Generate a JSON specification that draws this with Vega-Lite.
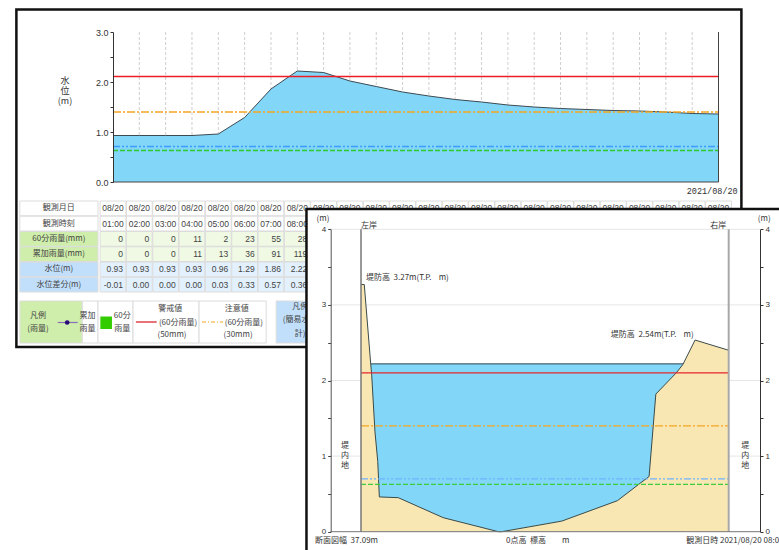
{
"$schema":"https://vega.github.io/schema/vega-lite/v6.json",
"width":779,"height":550,"padding":0,"autosize":"none","background":"white",
"config":{"view":{"stroke":null},"text":{"font":"Liberation Sans, Noto Sans CJK JP","fontSize":8,"color":"#333"}},
"datasets":{
"frame1":[{"h1":-2.67,"h2":24.87,"l1":3.45,"l2":-3.3}],
"grid1":[{"hour":2},{"hour":3},{"hour":4},{"hour":5},{"hour":6},{"hour":7},{"hour":8},{"hour":9},{"hour":10},{"hour":11},{"hour":12},{"hour":13},{"hour":14},{"hour":15},{"hour":16},{"hour":17},{"hour":18},{"hour":19},{"hour":20},{"hour":21},{"hour":22},{"hour":23}],
"level":[{"hour":1,"level":0.93},{"hour":2,"level":0.93},{"hour":3,"level":0.93},{"hour":4,"level":0.93},{"hour":5,"level":0.96},{"hour":6,"level":1.29},{"hour":7,"level":1.86},{"hour":8,"level":2.22},{"hour":9,"level":2.19},{"hour":10,"level":2.02},{"hour":11,"level":1.91},{"hour":12,"level":1.8},{"hour":13,"level":1.72},{"hour":14,"level":1.65},{"hour":15,"level":1.6},{"hour":16,"level":1.54},{"hour":17,"level":1.5},{"hour":18,"level":1.47},{"hour":19,"level":1.45},{"hour":20,"level":1.43},{"hour":21,"level":1.42},{"hour":22,"level":1.4},{"hour":23,"level":1.37},{"hour":24,"level":1.36}],
"limits1":[{"name":"警戒値","level":2.11,"a":1,"b":24},{"name":"注意値","level":1.4,"a":1,"b":24},{"name":"基準値A","level":0.71,"a":1,"b":24},{"name":"基準値B","level":0.63,"a":1,"b":24}],
"yticks1":[{"v":0},{"v":0.5},{"v":1},{"v":1.5},{"v":2},{"v":2.5},{"v":3}],
"legendBoxes":[{"h1":-2.536,"h2":-0.167,"l1":-2.38,"l2":-3.22,"kind":"雨量見出し"},{"h1":-0.167,"h2":0.43,"l1":-2.38,"l2":-3.22,"kind":"白"},{"h1":0.43,"h2":1.76,"l1":-2.38,"l2":-3.22,"kind":"白"},{"h1":1.76,"h2":4.27,"l1":-2.38,"l2":-3.22,"kind":"白"},{"h1":4.27,"h2":6.82,"l1":-2.38,"l2":-3.22,"kind":"白"},{"h1":7.2,"h2":9.02,"l1":-2.38,"l2":-3.22,"kind":"水位見出し"}],
"legendText":[{"h":-1.85,"l":-2.67,"t":"凡例"},{"h":-1.85,"l":-2.94,"t":"(雨量)"},{"h":0.03,"l":-2.67,"t":"累加"},{"h":0.03,"l":-2.94,"t":"雨量"},{"h":1.35,"l":-2.67,"t":"60分"},{"h":1.35,"l":-2.94,"t":"雨量"},{"h":3.17,"l":-2.54,"t":"警戒値"},{"h":3.47,"l":-2.81,"t":"(60分雨量)"},{"h":3.24,"l":-3.06,"t":"(50mm)"},{"h":5.7,"l":-2.54,"t":"注意値"},{"h":5.97,"l":-2.81,"t":"(60分雨量)"},{"h":5.75,"l":-3.06,"t":"(30mm)"},{"h":8.11,"l":-2.49,"t":"凡例"},{"h":8.11,"l":-2.76,"t":"(簡易水位"},{"h":8.11,"l":-3.04,"t":"計)"}],
"rowHeads":[{"row":"観測月日","from":-2.54,"to":0.43,"kind":"白"},{"row":"観測時刻","from":-2.54,"to":0.43,"kind":"白"},{"row":"60分雨量(mm)","from":-2.54,"to":0.43,"kind":"雨量見出し"},{"row":"累加雨量(mm)","from":-2.54,"to":0.43,"kind":"雨量見出し"},{"row":"水位(m)","from":-2.54,"to":0.43,"kind":"水位見出し"},{"row":"水位差分(m)","from":-2.54,"to":0.43,"kind":"水位見出し"}],
"dateCells":[{"row":"観測月日","hour":1,"from":0.51,"to":1.49,"kind":"白","text":"08/20"},{"row":"観測月日","hour":2,"from":1.51,"to":2.49,"kind":"白","text":"08/20"},{"row":"観測月日","hour":3,"from":2.51,"to":3.49,"kind":"白","text":"08/20"},{"row":"観測月日","hour":4,"from":3.51,"to":4.49,"kind":"白","text":"08/20"},{"row":"観測月日","hour":5,"from":4.51,"to":5.49,"kind":"白","text":"08/20"},{"row":"観測月日","hour":6,"from":5.51,"to":6.49,"kind":"白","text":"08/20"},{"row":"観測月日","hour":7,"from":6.51,"to":7.49,"kind":"白","text":"08/20"},{"row":"観測月日","hour":8,"from":7.51,"to":8.49,"kind":"白","text":"08/20"},{"row":"観測月日","hour":9,"from":8.51,"to":9.49,"kind":"白","text":"08/20"},{"row":"観測月日","hour":10,"from":9.51,"to":10.49,"kind":"白","text":"08/20"},{"row":"観測月日","hour":11,"from":10.51,"to":11.49,"kind":"白","text":"08/20"},{"row":"観測月日","hour":12,"from":11.51,"to":12.49,"kind":"白","text":"08/20"},{"row":"観測月日","hour":13,"from":12.51,"to":13.49,"kind":"白","text":"08/20"},{"row":"観測月日","hour":14,"from":13.51,"to":14.49,"kind":"白","text":"08/20"},{"row":"観測月日","hour":15,"from":14.51,"to":15.49,"kind":"白","text":"08/20"},{"row":"観測月日","hour":16,"from":15.51,"to":16.49,"kind":"白","text":"08/20"},{"row":"観測月日","hour":17,"from":16.51,"to":17.49,"kind":"白","text":"08/20"},{"row":"観測月日","hour":18,"from":17.51,"to":18.49,"kind":"白","text":"08/20"},{"row":"観測月日","hour":19,"from":18.51,"to":19.49,"kind":"白","text":"08/20"},{"row":"観測月日","hour":20,"from":19.51,"to":20.49,"kind":"白","text":"08/20"},{"row":"観測月日","hour":21,"from":20.51,"to":21.49,"kind":"白","text":"08/20"},{"row":"観測月日","hour":22,"from":21.51,"to":22.49,"kind":"白","text":"08/20"},{"row":"観測月日","hour":23,"from":22.51,"to":23.49,"kind":"白","text":"08/20"},{"row":"観測月日","hour":24,"from":23.51,"to":24.49,"kind":"白","text":"08/20"},
{"row":"観測時刻","hour":1,"from":0.51,"to":1.49,"kind":"白","text":"01:00"},{"row":"観測時刻","hour":2,"from":1.51,"to":2.49,"kind":"白","text":"02:00"},{"row":"観測時刻","hour":3,"from":2.51,"to":3.49,"kind":"白","text":"03:00"},{"row":"観測時刻","hour":4,"from":3.51,"to":4.49,"kind":"白","text":"04:00"},{"row":"観測時刻","hour":5,"from":4.51,"to":5.49,"kind":"白","text":"05:00"},{"row":"観測時刻","hour":6,"from":5.51,"to":6.49,"kind":"白","text":"06:00"},{"row":"観測時刻","hour":7,"from":6.51,"to":7.49,"kind":"白","text":"07:00"},{"row":"観測時刻","hour":8,"from":7.51,"to":8.49,"kind":"白","text":"08:00"}],
"numCells":[{"row":"60分雨量(mm)","hour":1,"from":0.51,"to":1.49,"kind":"雨量","text":"0"},{"row":"60分雨量(mm)","hour":2,"from":1.51,"to":2.49,"kind":"雨量","text":"0"},{"row":"60分雨量(mm)","hour":3,"from":2.51,"to":3.49,"kind":"雨量","text":"0"},{"row":"60分雨量(mm)","hour":4,"from":3.51,"to":4.49,"kind":"雨量","text":"11"},{"row":"60分雨量(mm)","hour":5,"from":4.51,"to":5.49,"kind":"雨量","text":"2"},{"row":"60分雨量(mm)","hour":6,"from":5.51,"to":6.49,"kind":"雨量","text":"23"},{"row":"60分雨量(mm)","hour":7,"from":6.51,"to":7.49,"kind":"雨量","text":"55"},{"row":"60分雨量(mm)","hour":8,"from":7.51,"to":8.49,"kind":"雨量","text":"28"},
{"row":"累加雨量(mm)","hour":1,"from":0.51,"to":1.49,"kind":"雨量","text":"0"},{"row":"累加雨量(mm)","hour":2,"from":1.51,"to":2.49,"kind":"雨量","text":"0"},{"row":"累加雨量(mm)","hour":3,"from":2.51,"to":3.49,"kind":"雨量","text":"0"},{"row":"累加雨量(mm)","hour":4,"from":3.51,"to":4.49,"kind":"雨量","text":"11"},{"row":"累加雨量(mm)","hour":5,"from":4.51,"to":5.49,"kind":"雨量","text":"13"},{"row":"累加雨量(mm)","hour":6,"from":5.51,"to":6.49,"kind":"雨量","text":"36"},{"row":"累加雨量(mm)","hour":7,"from":6.51,"to":7.49,"kind":"雨量","text":"91"},{"row":"累加雨量(mm)","hour":8,"from":7.51,"to":8.49,"kind":"雨量","text":"119"},
{"row":"水位(m)","hour":1,"from":0.51,"to":1.49,"kind":"水位","text":"0.93"},{"row":"水位(m)","hour":2,"from":1.51,"to":2.49,"kind":"水位","text":"0.93"},{"row":"水位(m)","hour":3,"from":2.51,"to":3.49,"kind":"水位","text":"0.93"},{"row":"水位(m)","hour":4,"from":3.51,"to":4.49,"kind":"水位","text":"0.93"},{"row":"水位(m)","hour":5,"from":4.51,"to":5.49,"kind":"水位","text":"0.96"},{"row":"水位(m)","hour":6,"from":5.51,"to":6.49,"kind":"水位","text":"1.29"},{"row":"水位(m)","hour":7,"from":6.51,"to":7.49,"kind":"水位","text":"1.86"},{"row":"水位(m)","hour":8,"from":7.51,"to":8.49,"kind":"水位","text":"2.22"},
{"row":"水位差分(m)","hour":1,"from":0.51,"to":1.49,"kind":"水位","text":"-0.01"},{"row":"水位差分(m)","hour":2,"from":1.51,"to":2.49,"kind":"水位","text":"0.00"},{"row":"水位差分(m)","hour":3,"from":2.51,"to":3.49,"kind":"水位","text":"0.00"},{"row":"水位差分(m)","hour":4,"from":3.51,"to":4.49,"kind":"水位","text":"0.00"},{"row":"水位差分(m)","hour":5,"from":4.51,"to":5.49,"kind":"水位","text":"0.03"},{"row":"水位差分(m)","hour":6,"from":5.51,"to":6.49,"kind":"水位","text":"0.33"},{"row":"水位差分(m)","hour":7,"from":6.51,"to":7.49,"kind":"水位","text":"0.57"},{"row":"水位差分(m)","hour":8,"from":7.51,"to":8.49,"kind":"水位","text":"0.36"}],
"frame2":[{"m1":-5.5,"m2":45,"l1":4.27,"l2":-0.6}],
"grid2":[{"level":4,"a":-3.07,"b":40.28},{"level":3,"a":-3.07,"b":40.28},{"level":2,"a":-3.07,"b":40.28},{"level":1,"a":-3.07,"b":40.28}],
"water":[{"a":0.9,"b":32.6,"top":2.22,"base":0}],
"ground":[{"m":0,"level":3.27},{"m":0.33,"level":3.27},{"m":0.98,"level":2.22},{"m":1.08,"level":2.07},{"m":1.41,"level":1.32},{"m":1.69,"level":0.93},{"m":1.85,"level":0.46},{"m":3.76,"level":0.45},{"m":8.3,"level":0.185},{"m":13.86,"level":0},{"m":14.2,"level":0},{"m":20.25,"level":0.14},{"m":25.86,"level":0.41},{"m":28.15,"level":0.64},{"m":29.06,"level":0.73},{"m":29.74,"level":1.82},{"m":31.79,"level":2.1},{"m":32.46,"level":2.21},{"m":33.7,"level":2.535},{"m":37.09,"level":2.4}],
"limits2":[{"name":"警戒値","level":2.1,"a":0,"b":37.09},{"name":"注意値","level":1.4,"a":0,"b":37.09},{"name":"基準値A","level":0.7,"a":0,"b":37.09},{"name":"基準値B","level":0.627,"a":0,"b":37.09}],
"yticks2":[{"v":0},{"v":0.5},{"v":1},{"v":1.5},{"v":2},{"v":2.5},{"v":3},{"v":3.5},{"v":4}],
"text2c":[{"m":-3.83,"l":4.14,"t":"(m)"},{"m":40.67,"l":4.14,"t":"(m)"},{"m":0.81,"l":4.05,"t":"左岸"},{"m":36.03,"l":4.05,"t":"右岸"}],
"text2v":[{"m":-1.61,"l":1.13,"t":"堤"},{"m":-1.61,"l":1.0,"t":"内"},{"m":-1.61,"l":0.87,"t":"地"},{"m":38.75,"l":1.13,"t":"堤"},{"m":38.75,"l":1.0,"t":"内"},{"m":38.75,"l":0.87,"t":"地"}],
"text2l":[{"m":0.5,"l":3.35,"t":"堤防高\u00a0\u00a03.27m(T.P.\u00a0\u00a0\u00a0\u00a0m)"},{"m":25.2,"l":2.6,"t":"堤防高\u00a0\u00a02.54m(T.P.\u00a0\u00a0\u00a0\u00a0m)"},{"m":-4.64,"l":-0.12,"t":"断面図幅\u00a0\u00a037.09m"},{"m":14.63,"l":-0.12,"t":"0点高\u00a0\u00a0標高"},{"m":20.28,"l":-0.12,"t":"m"},{"m":32.8,"l":-0.12,"t":"観測日時\u00a02021/08/20 08:00"}]
},
"layer":[
{"resolve":{"axis":{"y":"independent"}},"layer":[
{"data":{"name":"frame1"},"mark":{"type":"rect","fill":"white","stroke":"#111","strokeWidth":2.5},
 "encoding":{"x":{"field":"h1","type":"quantitative","axis":null,"scale":{"domain":[1,24],"range":[113,718.5],"zero":false,"nice":false}},"x2":{"field":"h2"},"y":{"field":"l1","type":"quantitative","axis":null,"scale":{"domain":[0,3],"range":[182,32],"zero":false,"nice":false}},"y2":{"field":"l2"}}},
{"data":{"name":"grid1"},"mark":{"type":"rule","stroke":"#cfcfcf","strokeDash":[3,2],"strokeWidth":1},
 "encoding":{"x":{"field":"hour","type":"quantitative","axis":null},"y":{"datum":3,"type":"quantitative","axis":null},"y2":{"datum":0}}},
{"data":{"name":"level"},"mark":{"type":"area","fill":"#82d6f7","stroke":null},
 "encoding":{"x":{"field":"hour","type":"quantitative","axis":null},"y":{"field":"level","type":"quantitative","stack":null,"axis":null}}},
{"data":{"name":"level"},"mark":{"type":"line","stroke":"#3c4a52","strokeWidth":1},
 "encoding":{"x":{"field":"hour","type":"quantitative","axis":null},"y":{"field":"level","type":"quantitative","axis":null}}},
{"data":{"name":"limits1"},"mark":{"type":"rule","strokeWidth":1.4},
 "encoding":{"x":{"field":"a","type":"quantitative","axis":null},"x2":{"field":"b"},"y":{"field":"level","type":"quantitative","axis":null},
  "color":{"field":"name","type":"nominal","legend":null,"scale":{"domain":["警戒値","注意値","基準値A","基準値B","白","雨量見出し","水位見出し"],"range":["#ee1c25","#f5a623","#3f9cff","#2ecc2e","#ffffff","#cfeeab","#c1dffb"]}},
  "strokeDash":{"field":"name","type":"nominal","legend":null,"scale":{"domain":["警戒値","注意値","基準値A","基準値B"],"range":[[1,0],[8,2,2,2],[7,2,2,2,2,2],[5,2]]}}}},
{"data":{"name":"grid1"},"transform":[{"filter":"datum.hour==23"}],"mark":{"type":"rule","stroke":"#444","strokeWidth":1},
 "encoding":{"x":{"datum":24,"type":"quantitative","axis":null},"y":{"datum":3,"type":"quantitative","axis":null},"y2":{"datum":0}}},
{"data":{"name":"grid1"},"transform":[{"filter":"datum.hour==23"}],"mark":{"type":"rule","stroke":"#444","strokeWidth":1},
 "encoding":{"x":{"datum":1,"type":"quantitative","axis":null},"x2":{"datum":24},"y":{"datum":0,"type":"quantitative","axis":null}}},
{"data":{"name":"yticks1"},"mark":{"type":"tick","opacity":0},
 "encoding":{"y":{"field":"v","type":"quantitative","axis":{"orient":"left","offset":-113,"values":[0,0.5,1,1.5,2,2.5,3],"zindex":1,"title":null,"grid":false,"domainColor":"#333","tickColor":"#333","tickSize":3,"labelPadding":2,"labelFont":"Liberation Sans","labelFontSize":9,"labelColor":"#333","labelExpr":"datum.value%1==0?format(datum.value,'.1f'):''"}}}},
{"data":{"values":[{"h":-0.825,"l":2.03,"t":"水"},{"h":-0.825,"l":1.83,"t":"位"},{"h":-0.825,"l":1.63,"t":"(m)"}]},"mark":{"type":"text","fontSize":9,"font":"Noto Sans CJK JP","baseline":"middle"},
 "encoding":{"x":{"field":"h","type":"quantitative","axis":null},"y":{"field":"l","type":"quantitative","axis":null},"text":{"field":"t"}}},
{"data":{"values":[{"h":24.73,"l":-0.186,"t":"2021/08/20"}]},"mark":{"type":"text","align":"right","fontSize":8.5,"font":"Liberation Mono","baseline":"middle"},
 "encoding":{"x":{"field":"h","type":"quantitative","axis":null},"y":{"field":"l","type":"quantitative","axis":null},"text":{"field":"t"}}},
{"data":{"name":"legendBoxes"},"mark":{"type":"rect","stroke":"#dcdcdc","strokeWidth":1},
 "encoding":{"x":{"field":"h1","type":"quantitative","axis":null},"x2":{"field":"h2"},"y":{"field":"l1","type":"quantitative","axis":null},"y2":{"field":"l2"},
  "color":{"field":"kind","type":"nominal","legend":null,"scale":{"domain":["警戒値","注意値","基準値A","基準値B","白","雨量見出し","水位見出し"],"range":["#ee1c25","#f5a623","#3f9cff","#2ecc2e","#ffffff","#cfeeab","#c1dffb"]}}}},
{"data":{"values":[{"a":-1.1,"b":-0.34,"l":-2.81}]},"mark":{"type":"rule","stroke":"#8a6fb8","strokeWidth":1.2},
 "encoding":{"x":{"field":"a","type":"quantitative","axis":null},"x2":{"field":"b"},"y":{"field":"l","type":"quantitative","axis":null}}},
{"data":{"values":[{"a":-0.74,"l":-2.81}]},"mark":{"type":"point","filled":true,"fill":"#2a0a7a","size":22,"opacity":1},
 "encoding":{"x":{"field":"a","type":"quantitative","axis":null},"y":{"field":"l","type":"quantitative","axis":null}}},
{"data":{"values":[{"a":0.52,"b":0.96,"l1":-2.69,"l2":-2.94}]},"mark":{"type":"rect","fill":"#33cc00"},
 "encoding":{"x":{"field":"a","type":"quantitative","axis":null},"x2":{"field":"b"},"y":{"field":"l1","type":"quantitative","axis":null},"y2":{"field":"l2"}}},
{"data":{"values":[{"a":1.87,"b":2.66,"l":-2.8}]},"mark":{"type":"rule","stroke":"#d8141c","strokeWidth":1.2},
 "encoding":{"x":{"field":"a","type":"quantitative","axis":null},"x2":{"field":"b"},"y":{"field":"l","type":"quantitative","axis":null}}},
{"data":{"values":[{"a":4.38,"b":5.18,"l":-2.8}]},"mark":{"type":"rule","stroke":"#f5a623","strokeWidth":1.2,"strokeDash":[4,2,1,2]},
 "encoding":{"x":{"field":"a","type":"quantitative","axis":null},"x2":{"field":"b"},"y":{"field":"l","type":"quantitative","axis":null}}},
{"data":{"name":"legendText"},"mark":{"type":"text","fontSize":8,"font":"Noto Sans CJK JP","baseline":"middle","color":"#444"},
 "encoding":{"x":{"field":"h","type":"quantitative","axis":null},"y":{"field":"l","type":"quantitative","axis":null},"text":{"field":"t"}}}
]},
{"layer":[
{"data":{"name":"rowHeads"},"mark":{"type":"rect","stroke":"#dcdcdc","strokeWidth":1},
 "encoding":{"x":{"field":"from","type":"quantitative","axis":null,"scale":{"domain":[1,24],"range":[113,718.5],"zero":false,"nice":false}},"x2":{"field":"to"},
  "y":{"field":"row","type":"nominal","axis":null,"scale":{"domain":["観測月日","観測時刻","60分雨量(mm)","累加雨量(mm)","水位(m)","水位差分(m)"],"range":[201,292],"paddingInner":0.03,"paddingOuter":0}},
  "color":{"field":"kind","type":"nominal","legend":null,"scale":{"domain":["白","雨量見出し","雨量","水位見出し","水位"],"range":["#ffffff","#cfeeab","#eff9e3","#c1dffb","#e2f1fd"]}}}},
{"data":{"name":"dateCells"},"mark":{"type":"rect","stroke":"#dcdcdc","strokeWidth":1},
 "encoding":{"x":{"field":"from","type":"quantitative","axis":null},"x2":{"field":"to"},"y":{"field":"row","type":"nominal","axis":null},"color":{"field":"kind","type":"nominal","legend":null}}},
{"data":{"name":"numCells"},"mark":{"type":"rect","stroke":"#dcdcdc","strokeWidth":1},
 "encoding":{"x":{"field":"from","type":"quantitative","axis":null},"x2":{"field":"to"},"y":{"field":"row","type":"nominal","axis":null},"color":{"field":"kind","type":"nominal","legend":null}}},
{"data":{"name":"rowHeads"},"mark":{"type":"text","fontSize":8,"font":"Noto Sans CJK JP","color":"#444","dx":39,"baseline":"middle"},
 "encoding":{"x":{"field":"from","type":"quantitative","axis":null},"y":{"field":"row","type":"nominal","axis":null},"text":{"field":"row"}}},
{"data":{"name":"dateCells"},"mark":{"type":"text","fontSize":8.5,"color":"#444","baseline":"middle"},
 "encoding":{"x":{"field":"hour","type":"quantitative","axis":null},"y":{"field":"row","type":"nominal","axis":null},"text":{"field":"text"}}},
{"data":{"name":"numCells"},"mark":{"type":"text","fontSize":8.5,"color":"#444","align":"right","dx":10,"baseline":"middle"},
 "encoding":{"x":{"field":"hour","type":"quantitative","axis":null},"y":{"field":"row","type":"nominal","axis":null},"text":{"field":"text"}}}
]},
{"resolve":{"axis":{"y":"independent"}},"layer":[
{"data":{"name":"frame2"},"mark":{"type":"rect","fill":"white","stroke":"#111","strokeWidth":2.5},
 "encoding":{"x":{"field":"m1","type":"quantitative","axis":null,"scale":{"domain":[0,37.09],"range":[361,728.7],"zero":false,"nice":false}},"x2":{"field":"m2"},"y":{"field":"l1","type":"quantitative","axis":null,"scale":{"domain":[0,4],"range":[531.7,229.3],"zero":false,"nice":false}},"y2":{"field":"l2"}}},
{"data":{"name":"grid2"},"mark":{"type":"rule","stroke":"#cccccc","strokeDash":[1,1],"strokeWidth":1},
 "encoding":{"x":{"field":"a","type":"quantitative","axis":null},"x2":{"field":"b"},"y":{"field":"level","type":"quantitative","axis":null}}},
{"data":{"name":"water"},"mark":{"type":"rect","fill":"#82d6f7"},
 "encoding":{"x":{"field":"a","type":"quantitative","axis":null},"x2":{"field":"b"},"y":{"field":"top","type":"quantitative","axis":null},"y2":{"field":"base"}}},
{"data":{"name":"water"},"mark":{"type":"rule","stroke":"#2f4650","strokeWidth":1},
 "encoding":{"x":{"field":"a","type":"quantitative","axis":null},"x2":{"field":"b"},"y":{"field":"top","type":"quantitative","axis":null}}},
{"data":{"name":"ground"},"mark":{"type":"area","fill":"#f9e7b3","stroke":null},
 "encoding":{"x":{"field":"m","type":"quantitative","axis":null},"y":{"field":"level","type":"quantitative","stack":null,"axis":null}}},
{"data":{"name":"ground"},"mark":{"type":"line","stroke":"#3a4a4a","strokeWidth":1},
 "encoding":{"x":{"field":"m","type":"quantitative","axis":null},"y":{"field":"level","type":"quantitative","axis":null}}},
{"data":{"name":"limits2"},"mark":{"type":"rule","strokeWidth":1.2},
 "encoding":{"x":{"field":"a","type":"quantitative","axis":null},"x2":{"field":"b"},"y":{"field":"level","type":"quantitative","axis":null},
  "color":{"field":"name","type":"nominal","legend":null,"scale":{"domain":["警戒値","注意値","基準値A","基準値B"],"range":["#e8262c","#f5a623","#6db3ff","#3ccc3c"]}},
  "strokeDash":{"field":"name","type":"nominal","legend":null,"scale":{"domain":["警戒値","注意値","基準値A","基準値B"],"range":[[1,0],[8,2,2,2],[7,2,2,2,2,2],[5,2]]}}}},
{"data":{"values":[{"m":0,"a":0,"b":4}]},"mark":{"type":"rule","stroke":"#777","strokeWidth":1.5},
 "encoding":{"x":{"field":"m","type":"quantitative","axis":null},"y":{"field":"a","type":"quantitative","axis":null},"y2":{"field":"b"}}},
{"data":{"values":[{"m":37.09,"a":0,"b":4}]},"mark":{"type":"rule","stroke":"#a8a8a8","strokeWidth":2},
 "encoding":{"x":{"field":"m","type":"quantitative","axis":null},"y":{"field":"a","type":"quantitative","axis":null},"y2":{"field":"b"}}},
{"data":{"values":[{"a":-3.07,"b":40.28,"l":0}]},"mark":{"type":"rule","stroke":"#777","strokeWidth":1},
 "encoding":{"x":{"field":"a","type":"quantitative","axis":null},"x2":{"field":"b"},"y":{"field":"l","type":"quantitative","axis":null}}},
{"data":{"name":"yticks2"},"mark":{"type":"tick","opacity":0},
 "encoding":{"y":{"field":"v","type":"quantitative","axis":{"orient":"left","offset":-330.7,"values":[0,0.5,1,1.5,2,2.5,3,3.5,4],"zindex":1,"title":null,"grid":false,"domainColor":"#555","tickColor":"#444","tickSize":3,"labelPadding":2,"labelFont":"Liberation Sans","labelFontSize":8,"labelColor":"#333","labelExpr":"datum.value%1==0?format(datum.value,'d'):''"}}}},
{"data":{"name":"yticks2"},"mark":{"type":"tick","opacity":0},
 "encoding":{"y":{"field":"v","type":"quantitative","axis":{"orient":"right","offset":-19,"values":[0,0.5,1,1.5,2,2.5,3,3.5,4],"zindex":1,"title":null,"grid":false,"domainColor":"#333","tickColor":"#333","tickSize":3,"labelPadding":2,"labelFont":"Liberation Sans","labelFontSize":8,"labelColor":"#333","labelExpr":"datum.value%1==0?format(datum.value,'d'):''"}}}},
{"data":{"name":"text2c"},"mark":{"type":"text","fontSize":8,"font":"Noto Sans CJK JP","baseline":"middle"},
 "encoding":{"x":{"field":"m","type":"quantitative","axis":null},"y":{"field":"l","type":"quantitative","axis":null},"text":{"field":"t"}}},
{"data":{"name":"text2v"},"mark":{"type":"text","fontSize":8,"font":"Noto Sans CJK JP","baseline":"middle"},
 "encoding":{"x":{"field":"m","type":"quantitative","axis":null},"y":{"field":"l","type":"quantitative","axis":null},"text":{"field":"t"}}},
{"data":{"name":"text2l"},"mark":{"type":"text","align":"left","fontSize":8,"baseline":"middle","font":"Noto Sans CJK JP"},
 "encoding":{"x":{"field":"m","type":"quantitative","axis":null},"y":{"field":"l","type":"quantitative","axis":null},"text":{"field":"t"}}}
]}
],
"resolve":{"scale":{"x":"independent","y":"independent","color":"independent","strokeDash":"independent"},"axis":{"x":"independent","y":"independent"}}
}
